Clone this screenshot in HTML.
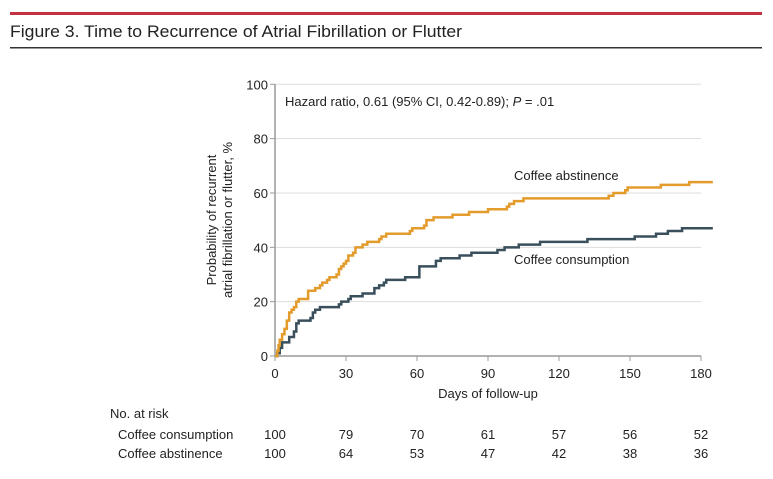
<!DOCTYPE html>
<html><head><meta charset="utf-8"><style>
body{margin:0;background:#fff}
svg{display:block;font-family:"Liberation Sans Narrow","Liberation Sans",sans-serif}
</style></head><body>
<svg id="c" width="773" height="479" viewBox="0 0 773 479">
<rect x="10" y="12" width="752" height="3" fill="#c4323f"/>
<text x="10" y="37" font-size="17" fill="#222" textLength="452" lengthAdjust="spacingAndGlyphs">Figure 3. Time to Recurrence of Atrial Fibrillation or Flutter</text>
<rect x="10" y="47" width="752" height="1.5" fill="#333"/>
<g id="grid"></g><g id="axes"></g><g id="series"></g>
<text x="285" y="106" font-size="13" fill="#222">Hazard ratio, 0.61 (95% CI, 0.42-0.89); <tspan font-style="italic">P</tspan> = .01</text>
<text x="514" y="180" font-size="13" fill="#222">Coffee abstinence</text>
<text x="514" y="264" font-size="13" fill="#222">Coffee consumption</text>
<text transform="translate(216,220) rotate(-90)" text-anchor="middle" font-size="13" fill="#222"><tspan x="0" dy="0">Probability of recurrent</tspan><tspan x="0" dy="16">atrial fibrillation or flutter, %</tspan></text>
<text x="488" y="398" text-anchor="middle" font-size="13" fill="#222">Days of follow-up</text>
<text x="110" y="418" font-size="13" fill="#222">No. at risk</text>
<text x="118" y="439" font-size="13" fill="#222">Coffee consumption</text>
<text x="118" y="458" font-size="13" fill="#222">Coffee abstinence</text>
<g id="risk"></g>
</svg>
<script>
const xTicks=[0,30,60,90,120,150,180];
const yTicks=[0,20,40,60,80,100];
const absT=[0,1,1.5,2,3,4,5,6,7,8,9,10,14,17,19,20,22,23,26,27,28,29,30,31,33,34,37,39,44,45,47,57,58,63,64,67,75,82,90,98,99,101,105,141,143,148,149,163,175];
const absV=[0,2,4,6,8,10,13,16,17,18,20,21,24,25,26,27,28,29,30,32,33,34,35,37,38,40,41,42,43,44,45,46,47,48,50,51,52,53,54,55,56,57,58,59,60,61,62,63,64];
const conT=[0,1,2,3,6,8,9,10,15,16,17,19,27,28,31,32,37,42,44,46,47,55,61,68,70,78,83,94,97,103,112,132,152,161,166,172];
const conV=[0,1,3,5,7,9,12,13,14,16,17,18,19,20,21,22,23,25,26,27,28,29,33,35,36,37,38,39,40,41,42,43,44,45,46,47];
const endDay=185;
const riskCon=[100,79,70,61,57,56,52];
const riskAbs=[100,64,53,47,42,38,36];
const NS="http://www.w3.org/2000/svg";
const X=d=>275+d*(426/180), Y=v=>356-v*2.717;
function mk(t,a,p){const e=document.createElementNS(NS,t);for(const k in a)e.setAttribute(k,a[k]);p.appendChild(e);return e;}
const grid=document.getElementById('grid'),axes=document.getElementById('axes');
yTicks.forEach(v=>{
 if(v>0){const g=mk('line',{x1:X(0),x2:701,y1:Y(v),y2:Y(v),stroke:'#ddd','stroke-width':1},grid);
 
 }
 const t=mk('line',{x1:X(0)-5,x2:X(0),y1:Y(v),y2:Y(v),stroke:'#999'},axes);
 
 
 const l=mk('text',{x:X(0)-7,y:Y(v)+5,'text-anchor':'end','font-size':13,fill:'#222'},axes);l.textContent=v;
 
 
});
xTicks.forEach(d=>{
 const t=mk('line',{x1:X(d),x2:X(d),y1:Y(0),y2:Y(0)+5,stroke:'#999'},axes);
 
 
 const l=mk('text',{x:X(d),y:Y(0)+22,'text-anchor':'middle','font-size':13,fill:'#222'},axes);l.textContent=d;
 
 
});
const ya=mk('line',{x1:X(0),x2:X(0),y1:Y(100),y2:Y(0),stroke:'#999','stroke-width':1.5},axes);


const xa=mk('line',{x1:X(0),x2:X(180),y1:Y(0),y2:Y(0),stroke:'#999','stroke-width':1.5},axes);


function step(T,V){let d='M'+X(T[0])+','+Y(V[0]);for(let i=1;i<T.length;i++){d+='H'+X(T[i])+'V'+Y(V[i]);}d+='H'+X(endDay);return d;}
const s=document.getElementById('series');
const p1=mk('path',{d:step(conT,conV),fill:'none',stroke:'#3a4f5c','stroke-width':2.5},s);


const p2=mk('path',{d:step(absT,absV),fill:'none',stroke:'#e39b2c','stroke-width':2.5},s);


const r=document.getElementById('risk');
xTicks.forEach((d,i)=>{
 const a=mk('text',{x:X(d),y:439,'text-anchor':'middle','font-size':13,fill:'#222'},r);a.textContent=riskCon[i];
 
 
 const b=mk('text',{x:X(d),y:458,'text-anchor':'middle','font-size':13,fill:'#222'},r);b.textContent=riskAbs[i];
 
 
});
</script>
</body></html>
